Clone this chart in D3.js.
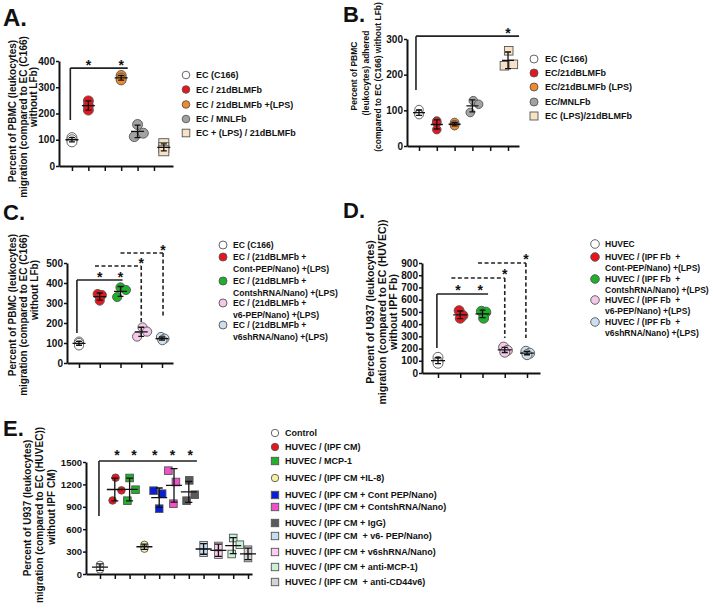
<!DOCTYPE html>
<html><head><meta charset="utf-8">
<script src="https://cdn.jsdelivr.net/npm/d3@7/dist/d3.min.js"></script>
<style>
body{margin:0;background:#fff;}
svg text{font-family:"Liberation Sans",Arial,Helvetica,sans-serif;font-weight:bold;fill:#111;}
</style></head><body>
<svg id="chart" width="713" height="610"></svg>
<script>
// ================= DATA =================
// ---- Panel A ----
const aLabels  = ["EC (C166)","EC / 21dBLMFb","EC / 21dBLMFb +(LPS)","EC / MNLFb","EC + (LPS) / 21dBLMFb"];
const aValues  = [[108,100,92],[248,230,213],[345,335,328],[158,112,125],[85,70,58]];
const aCenters = [0,1,3,4,5.6];
const aXPos    = [[0,0,0],[1,1,1],[3,3,3],[4,3.8,4.35],[5.6,5.6,5.6]];
const aYTicks  = [0,100,200,300,400];
const aXTicks  = [0,1,2,3,4,5];
const aBrackets = [{x1:-0.1,x2:3.4,top:373,bottom:175,side:"left",dashed:false,stars:[1,3]}];
const aYLabel  = ["Percent of PBMC (leukocytes)","migration (compared to EC (C166)","without LFb)"];

// ---- Panel B ----
const bLabels  = ["EC (C166)","EC/21dBLMFb","EC/21dBLMFb (LPS)","EC/MNLFb","EC (LPS)/21dBLMFb"];
const bValues  = [[102,90,88],[70,65,46],[66,60,57],[127,117,94],[267,225,229]];
const bCenters = [0,1,2,3,5];
const bXPos    = [[0,0,0],[1,1,1],[2,2,2],[3.05,3.35,2.88],[5.04,4.8,5.3]];
const bYTicks  = [0,100,200,300];
const bXTicks  = [0,1,2,3,4,5];
const bBrackets = [{x1:-0.17,x2:5.62,top:308,bottom:157,side:"left",dashed:false,stars:[5]}];
const bYLabel  = ["Percent of PBMC","(leukocytes) adhered","(compared to EC (C166) without LFb)"];

// ---- Panel C ----
const cLabels  = ["EC (C166)","EC / (21dBLMFb +\nCont-PEP/Nano) +(LPS)","EC / (21dBLMFb +\nContshRNA/Nano) +(LPS)","EC / (21dBLMFb +\nv6-PEP/Nano) +(LPS)","EC / (21dBLMFb +\nv6shRNA/Nano) +(LPS)"];
const cValues  = [[107,100,88],[345,340,312],[378,365,330],[178,157,132],[130,122,114]];
const cCenters = [0,1,2,3,4];
const cXPos    = [[0,0,0],[0.9,1.1,1],[2,2.26,1.84],[3.06,3.28,2.8],[3.95,4.12,4.02]];
const cYTicks  = [0,100,200,300,400,500];
const cXTicks  = [0,1,2,3,4];
const cBrackets = [
  {x1:-0.1,x2:2.1,top:415,bottom:150,side:"left",dashed:false,stars:[1,2]},
  {x1:0.77,x2:3.0,top:485,bottom:205,side:"right",dashed:true,stars:[3.0]},
  {x1:2.0,x2:4.05,top:550,bottom:230,side:"right",dashed:true,stars:[4.05]}
];
const cYLabel  = ["Percent of PBMC (leukocytes)","migration (compared to EC (C166)","without LFb)"];

// ---- Panel D ----
const dLabels  = ["HUVEC","HUVEC / (IPF Fb  +\nCont-PEP/Nano) +(LPS)","HUVEC / (IPF Fb  +\nContshRNA/Nano) +(LPS)","HUVEC / (IPF Fb  +\nv6-PEP/Nano) +(LPS)","HUVEC / (IPF Fb  +\nv6shRNA/Nano) +(LPS)"];
const dValues  = [[128,95,80],[510,470,448],[505,498,448],[212,185,170],[178,162,150]];
const dCenters = [0,1,2,3,4];
const dXPos    = [[0,0,0],[0.95,1.12,1],[1.95,2.15,2.05],[2.95,3.12,3.0],[3.95,4.12,4.0]];
const dYTicks  = [0,100,200,300,400,500,600,700,800,900];
const dXTicks  = [0,1,2,3,4];
const dBrackets = [
  {x1:-0.05,x2:2.25,top:646,bottom:205,side:"left",dashed:false,stars:[0.9,1.9]},
  {x1:0.6,x2:3.0,top:777,bottom:286,side:"right",dashed:true,stars:[3.0]},
  {x1:1.8,x2:3.95,top:900,bottom:286,side:"right",dashed:true,stars:[3.95]}
];
const dYLabel  = ["Percent of U937 (leukocytes)","migration (compared to EC (HUVEC))","without IPF Fb)"];

// ---- Panel E ----
const eLabels  = ["Control","HUVEC / (IPF CM)","HUVEC / MCP-1","HUVEC / (IPF CM +IL-8)","HUVEC / (IPF CM + Cont PEP/Nano)","HUVEC / (IPF CM + ContshRNA/Nano)","HUVEC / (IPF CM + IgG)","HUVEC / (IPF CM  + v6- PEP/Nano)","HUVEC / (IPF CM + v6shRNA/Nano)","HUVEC / (IPF CM + anti-MCP-1)","HUVEC / (IPF CM  + anti-CD44v6)"];
const eValues  = [[122,62],[1290,1120,985],[1286,1129,982],[390,340],[1116,1076,875],[1384,1232,942],[1254,1062,982],[385,285],[375,260],[482,392,268],[325,215]];
const eCenters = [0,1,2,3,4,5,6,7,8,9,10];
const eXPos    = [[0,0],[1.05,1.45,0.85],[2.0,2.4,1.85],[3,3],[3.62,4.2,4.0],[4.62,5.13,4.96],[6.03,6.4,5.85],[7,7],[8,8],[9.0,9.45,8.9],[10,10]];
const eYTicks  = [0,300,600,900,1200,1500];
const eXTicks  = [0,1,2,3,4,5,6,7,8,9,10];
const eBrackets = [{x1:-0.07,x2:6.55,top:1513,bottom:777,side:"left",dashed:false,stars:[1.15,2.3,3.7,4.9,6.1]}];
const eYLabel  = ["Percent of U937  (leukocytes)","migration (compared to EC (HUVEC))","without IPF CM)"];

// ================= STYLES =================
const aColors = ["#ffffff","#e8161c","#f08a2c","#a2a2a2","#f7e2c6"];
const aShapes = ["circle","circle","circle","circle","square"];
const cColors = ["#ffffff","#e8161c","#1fb02a","#f3c8e8","#cddfee"];
const cShapes = ["circle","circle","circle","circle","circle"];
const eColors = ["#ffffff","#e8161c","#22b02c","#f7f0a4","#0a1ed6","#f050c8","#5a5a5a","#c6ddf2","#f9cdef","#c9f1d5","#d4d4d4"];
const eShapes = ["circle","circle","square","circle","square","square","square","square","square","square","square"];

const svg = d3.select("#chart");

function marker(g, shape, cx, cy, size, fill) {
  if (shape === "square") {
    g.append("rect").attr("x", cx - size).attr("y", cy - size)
      .attr("width", size * 2).attr("height", size * 2)
      .attr("fill", fill).attr("stroke", "#555").attr("stroke-width", 0.9);
  } else {
    g.append("circle").attr("cx", cx).attr("cy", cy).attr("r", size)
      .attr("fill", fill).attr("stroke", "#555").attr("stroke-width", 0.9);
  }
}

function drawPanel(p) {
  const g = svg.append("g");
  const x = d3.scaleLinear().domain(p.xDomain).range(p.xRange);
  const y = d3.scaleLinear().domain([0, p.yMax]).range(p.yRange);

  g.append("text").attr("x", p.title.x).attr("y", p.title.y)
    .attr("font-size", p.title.size).text(p.title.text);

  p.yLabel.forEach((t, i) => {
    g.append("text")
      .attr("transform", `translate(${p.yLab.xs[i]},${p.yLab.ys[i]}) rotate(-90)`)
      .attr("text-anchor", "middle").attr("font-size", p.yLab.size).text(t);
  });

  const ya = g.append("g").attr("transform", `translate(${p.xRange[0]},0)`)
    .call(d3.axisLeft(y).tickValues(p.yTicks).tickFormat(d3.format("d"))
      .tickSize(3).tickSizeOuter(0).tickPadding(1));
  const xa = g.append("g").attr("transform", `translate(0,${p.yRange[0]})`)
    .call(d3.axisBottom(x).tickValues(p.xTicks).tickSize(5).tickSizeOuter(0).tickFormat(""));
  [ya, xa].forEach(a => {
    a.select(".domain").attr("stroke", "#111").attr("stroke-width", 2);
    a.selectAll(".tick line").attr("stroke", "#111").attr("stroke-width", 1.5);
  });
  ya.selectAll(".tick text").attr("font-size", p.tickFont).attr("fill", "#111");

  p.values.forEach((vals, gi) => {
    vals.forEach((v, i) => marker(g, p.shapes[gi], x(p.xPos[gi][i]), y(v), p.ptSize, p.colors[gi]));
  });
  p.values.forEach((vals, gi) => {
    const m = d3.mean(vals), sd = d3.deviation(vals) || 0;
    const cx = x(p.centers[gi]);
    const hw = p.meanW / 2, cw = p.capW / 2;
    const path = `M${cx - hw},${y(m)}H${cx + hw}` +
      `M${cx},${y(m - sd)}V${y(m + sd)}` +
      `M${cx - cw},${y(m + sd)}H${cx + cw}` +
      `M${cx - cw},${y(m - sd)}H${cx + cw}`;
    g.append("path").attr("d", path).attr("fill", "none").attr("stroke", "#111").attr("stroke-width", 1.3);
  });

  p.brackets.forEach(b => {
    const X1 = x(b.x1), X2 = x(b.x2), T = y(b.top), B = y(b.bottom);
    const vx = b.side === "left" ? X1 : X2;
    g.append("path").attr("d", `M${X1},${T}H${X2}M${vx},${T}V${B}`)
      .attr("fill", "none").attr("stroke", "#222").attr("stroke-width", 1.6)
      .attr("stroke-dasharray", b.dashed ? "4,2.5" : null);
    b.stars.forEach(s => {
      g.append("text").attr("x", x(s)).attr("y", T + p.starDy)
        .attr("text-anchor", "middle").attr("font-size", p.starFont).text("*");
    });
  });

  const L = p.legend;
  p.labels.forEach((lab, i) => {
    const ry = L.rows[i];
    marker(g, L.shapes ? L.shapes[i] : "circle", L.mx, ry, L.size, p.colors[i]);
    lab.split("\n").forEach((line, k) => {
      g.append("text").attr("x", L.tx).attr("y", ry + k * L.lineH).attr("dy", "0.35em")
        .attr("font-size", L.font).attr("xml:space", "preserve").text(line);
    });
  });
}

drawPanel({
  title:{text:"A.",x:3,y:26,size:24},
  labels:aLabels, values:aValues, centers:aCenters, xPos:aXPos, colors:aColors, shapes:aShapes,
  xTicks:aXTicks, yTicks:aYTicks, brackets:aBrackets, yLabel:aYLabel,
  xDomain:[-0.79,6.16], xRange:[59,173], yMax:400, yRange:[166,61],
  yLab:{xs:[15.5,27,37], ys:[111,117,97], size:10},
  tickFont:10, ptSize:5, meanW:13, capW:6, starDy:2, starFont:14,
  legend:{mx:186, tx:196, rows:[75,89.5,104.5,119,133], lineH:11, font:9, size:3.8, shapes:aShapes}
});
drawPanel({
  title:{text:"B.",x:343,y:22,size:22},
  labels:bLabels, values:bValues, centers:bCenters, xPos:bXPos, colors:aColors, shapes:aShapes,
  xTicks:bXTicks, yTicks:bYTicks, brackets:bBrackets, yLabel:bYLabel,
  xDomain:[-0.674,5.618], xRange:[407,519], yMax:300, yRange:[146,39],
  yLab:{xs:[357,369,381], ys:[76,73,77], size:8.5},
  tickFont:10, ptSize:4.3, meanW:12, capW:6, starDy:2, starFont:14,
  legend:{mx:534, tx:545, rows:[59,73,87,102,116], lineH:11, font:9, size:4, shapes:aShapes}
});
drawPanel({
  title:{text:"C.",x:3,y:220,size:22},
  labels:cLabels, values:cValues, centers:cCenters, xPos:cXPos, colors:cColors, shapes:cShapes,
  xTicks:cXTicks, yTicks:cYTicks, brackets:cBrackets, yLabel:cYLabel,
  xDomain:[-0.578,4.53], xRange:[67,173], yMax:500, yRange:[363,263],
  yLab:{xs:[15.5,27,38], ys:[305,315,290], size:10},
  tickFont:10, ptSize:4.6, meanW:13, capW:6, starDy:2, starFont:14,
  legend:{mx:223, tx:233, rows:[245,257,281,303,325], lineH:11.5, font:8.6, size:4, shapes:cShapes}
});
drawPanel({
  title:{text:"D.",x:343,y:218,size:22},
  labels:dLabels, values:dValues, centers:dCenters, xPos:dXPos, colors:cColors, shapes:cShapes,
  xTicks:dXTicks, yTicks:dYTicks, brackets:dBrackets, yLabel:dYLabel,
  xDomain:[-0.719,4.584], xRange:[422,540], yMax:900, yRange:[373,263],
  yLab:{xs:[374,385.5,397], ys:[312,312,312], size:10.5},
  tickFont:10, ptSize:5, meanW:14, capW:6, starDy:1, starFont:14,
  legend:{mx:595, tx:605, rows:[244,257,279,300,322], lineH:11, font:8.5, size:4.3, shapes:cShapes}
});
drawPanel({
  title:{text:"E.",x:3,y:436,size:22},
  labels:eLabels, values:eValues, centers:eCenters, xPos:eXPos, colors:eColors, shapes:eShapes,
  xTicks:eXTicks, yTicks:eYTicks, brackets:eBrackets, yLabel:eYLabel,
  xDomain:[-0.946,10.27], xRange:[86,252], yMax:1500, yRange:[574,462],
  yLab:{xs:[31,43,55], ys:[508,515,507], size:10},
  tickFont:9.5, ptSize:3.8, meanW:16, capW:7, starDy:-1, starFont:14,
  legend:{mx:275, tx:285, rows:[433,447,461,478,495,507,523,536,552,567,582], lineH:11, font:9, size:3.7, shapes:eShapes}
});
</script>
</body></html>
